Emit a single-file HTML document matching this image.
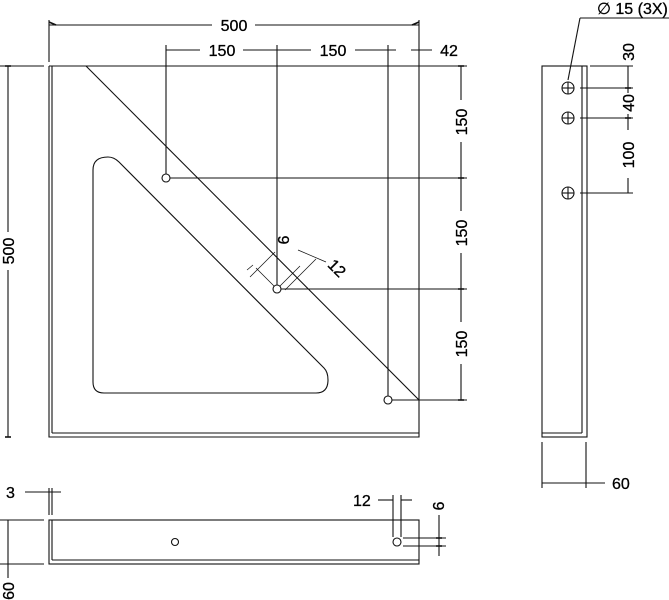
<!DOCTYPE html>
<html><head><style>
html,body{margin:0;padding:0;background:#fff;}
svg{display:block;}
text{font-family:"Liberation Sans",sans-serif;font-size:16px;fill:#000;stroke:#000;stroke-width:0.3;}
</style></head><body>
<svg width="669" height="600" viewBox="0 0 669 600" xmlns="http://www.w3.org/2000/svg">
<g stroke="#111" stroke-width="1.1" fill="none">
<path d="M49,66 L49,437 L419,437 L419,400"/>
<line x1="52" y1="66" x2="52" y2="433"/>
<line x1="52" y1="433" x2="419" y2="433"/>
<line x1="49" y1="66" x2="86" y2="66"/>
<line x1="86" y1="66" x2="419" y2="400"/>
<path d="M93,170 Q93,157 108,157 Q114,157 119,162 L324,368 Q328,372 328,380 Q328,393 316,393 L104,393 Q93,393 93,382 Z"/>
<circle cx="166" cy="178" r="4"/>
<circle cx="277" cy="289" r="4"/>
<circle cx="388" cy="400" r="4"/>
<line x1="0" y1="66" x2="44" y2="66"/>
<line x1="86" y1="66" x2="467" y2="66"/>
<line x1="170" y1="178" x2="467" y2="178"/>
<line x1="281" y1="289" x2="467" y2="289"/>
<line x1="392" y1="400" x2="467" y2="400"/>
<line x1="49" y1="20" x2="49" y2="62"/>
<line x1="419" y1="20" x2="419" y2="400"/>
<line x1="166" y1="45" x2="166" y2="174"/>
<line x1="277" y1="45" x2="277" y2="285"/>
<line x1="388" y1="45" x2="388" y2="396"/>
<line x1="49" y1="25" x2="212" y2="25"/><line x1="255" y1="25" x2="419" y2="25"/>
<line x1="166" y1="50" x2="200" y2="50"/><line x1="243" y1="50" x2="285" y2="50"/>
<line x1="268" y1="50" x2="311" y2="50"/><line x1="355" y1="50" x2="396" y2="50"/>
<line x1="411" y1="50" x2="432" y2="50"/>
<line x1="8" y1="66" x2="8" y2="232"/><line x1="8" y1="270" x2="8" y2="437"/>
<line x1="461" y1="66" x2="461" y2="100"/><line x1="461" y1="142" x2="461" y2="178"/>
<line x1="461" y1="178" x2="461" y2="211"/><line x1="461" y1="253" x2="461" y2="289"/>
<line x1="461" y1="289" x2="461" y2="322"/><line x1="461" y1="364" x2="461" y2="400"/>
<g stroke-width="0.7">
<line x1="274" y1="286" x2="256" y2="268"/>
<line x1="280" y1="286" x2="300" y2="266"/><line x1="285" y1="290" x2="316" y2="259"/>
<line x1="250" y1="277" x2="275" y2="252"/>
<line x1="298" y1="250" x2="326" y2="262"/>
<line x1="247" y1="270" x2="253" y2="265"/>
</g>
<rect x="542" y="66" width="45" height="371"/>
<line x1="582" y1="66" x2="582" y2="433"/>
<line x1="542" y1="433" x2="582" y2="433"/>
<circle cx="568" cy="88" r="6"/><line x1="562" y1="88" x2="574" y2="88"/><line x1="568" y1="82" x2="568" y2="94"/>
<circle cx="568" cy="118" r="6"/><line x1="562" y1="118" x2="574" y2="118"/><line x1="568" y1="112" x2="568" y2="124"/>
<circle cx="568" cy="193" r="6"/><line x1="562" y1="193" x2="574" y2="193"/><line x1="568" y1="187" x2="568" y2="199"/>
<line x1="590" y1="66" x2="633" y2="66"/>
<line x1="580" y1="88" x2="633" y2="88"/>
<line x1="580" y1="118" x2="633" y2="118"/>
<line x1="580" y1="193" x2="633" y2="193"/>
<line x1="628" y1="66" x2="628" y2="88"/>
<line x1="628" y1="88" x2="628" y2="93"/><line x1="628" y1="114" x2="628" y2="130"/>
<line x1="628" y1="178" x2="628" y2="193"/>
<line x1="568" y1="80" x2="580" y2="18"/><line x1="580" y1="18" x2="669" y2="18"/>
<line x1="542" y1="442" x2="542" y2="488"/><line x1="586" y1="442" x2="586" y2="488"/>
<line x1="542" y1="483" x2="605" y2="483"/>
<rect x="49" y="520" width="370" height="44"/>
<line x1="52" y1="520" x2="52" y2="560"/>
<line x1="52" y1="560" x2="419" y2="560"/>
<circle cx="175" cy="542" r="3.5"/>
<circle cx="397" cy="542" r="4"/>
<line x1="49" y1="488" x2="49" y2="515"/><line x1="52" y1="488" x2="52" y2="515"/>
<line x1="25" y1="492" x2="61" y2="492"/>
<line x1="393" y1="495" x2="393" y2="537"/><line x1="401" y1="495" x2="401" y2="537"/>
<line x1="378" y1="500" x2="393" y2="500"/><line x1="401" y1="500" x2="412" y2="500"/>
<line x1="403" y1="538" x2="446" y2="538"/><line x1="403" y1="546" x2="446" y2="546"/>
<line x1="439" y1="515" x2="439" y2="556"/>
<line x1="0" y1="520" x2="44" y2="520"/><line x1="0" y1="564" x2="44" y2="564"/>
<line x1="8" y1="520" x2="8" y2="564"/><line x1="8" y1="564" x2="8" y2="578"/>
</g>
<g stroke="#111" stroke-width="1.6">
<line x1="49" y1="22" x2="56" y2="25"/><line x1="419" y1="22" x2="412" y2="25"/>
<line x1="5" y1="66" x2="11" y2="66"/><line x1="5" y1="437" x2="11" y2="437"/>
<line x1="458" y1="178" x2="464" y2="178"/><line x1="458" y1="289" x2="464" y2="289"/><line x1="458" y1="400" x2="464" y2="400"/><line x1="458" y1="66" x2="464" y2="66"/>
<line x1="625" y1="88" x2="631" y2="88"/><line x1="625" y1="118" x2="631" y2="118"/>
<line x1="436" y1="538" x2="442" y2="538"/><line x1="436" y1="546" x2="442" y2="546"/>
</g>
<text x="234" y="31" text-anchor="middle">500</text>
<text x="222" y="56" text-anchor="middle">150</text>
<text x="333" y="56" text-anchor="middle">150</text>
<text x="449" y="56" text-anchor="middle">42</text>
<text transform="translate(14,251) rotate(-90)" text-anchor="middle">500</text>
<text transform="translate(467,122) rotate(-90)" text-anchor="middle">150</text>
<text transform="translate(467,233) rotate(-90)" text-anchor="middle">150</text>
<text transform="translate(467,344) rotate(-90)" text-anchor="middle">150</text>
<text transform="translate(278,240) rotate(90)" text-anchor="middle">9</text>
<text transform="translate(333,272) rotate(45)" text-anchor="middle">12</text>
<text x="597" y="14">∅ 15 (3X)</text>
<text transform="translate(634,52) rotate(-90)" text-anchor="middle">30</text>
<text transform="translate(634,103) rotate(-90)" text-anchor="middle">40</text>
<text transform="translate(634,155) rotate(-90)" text-anchor="middle">100</text>
<text x="612" y="489">60</text>
<text x="6" y="498">3</text>
<text x="353" y="506">12</text>
<text transform="translate(433,506) rotate(90)" text-anchor="middle">9</text>
<text transform="translate(14,591) rotate(-90)" text-anchor="middle">60</text>
</svg>
</body></html>
